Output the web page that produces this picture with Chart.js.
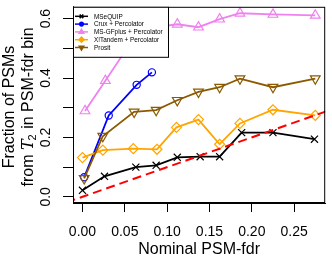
<!DOCTYPE html>
<html lang="en">
<head>
<meta charset="UTF-8">
<title>Fraction of PSMs vs nominal PSM-fdr</title>
<script src="https://cdn.jsdelivr.net/npm/chart.js@4.4.0/dist/chart.umd.min.js"></script>
<style>
    html, body { margin: 0; padding: 0; background: #fff; }
    #wrap { width: 332px; height: 260px; }
</style>
</head>
<body>
<div id="wrap">
    <canvas id="myChart" width="332" height="260"></canvas>
</div>
<script>
    // values
    const msqX = [0.000, 0.026, 0.063, 0.087, 0.112, 0.139, 0.162, 0.188, 0.225, 0.274];
    const msqY = [0.022, 0.069, 0.100, 0.106, 0.133, 0.135, 0.135, 0.216, 0.216, 0.194];

    const cruxX = [0.002, 0.031, 0.064, 0.082];
    const cruxY = [0.066, 0.274, 0.377, 0.419];

    const msgfX = [0.003, 0.027, 0.061, 0.087, 0.112, 0.137, 0.162, 0.186, 0.225, 0.275];
    const msgfY = [0.289, 0.391, 0.536, 0.571, 0.581, 0.571, 0.598, 0.618, 0.614, 0.611];

    const xtX = [0.000, 0.024, 0.060, 0.088, 0.111, 0.137, 0.162, 0.186, 0.225, 0.275];
    const xtY = [0.132, 0.157, 0.162, 0.160, 0.234, 0.260, 0.177, 0.247, 0.293, 0.274];

    const prositX = [0.002, 0.024, 0.061, 0.087, 0.112, 0.137, 0.162, 0.186, 0.225, 0.275];
    const prositY = [0.062, 0.204, 0.286, 0.292, 0.325, 0.353, 0.369, 0.398, 0.369, 0.398];

    // y = x reference
    const diagX = [-0.05, 0.35];
    const diagY = [-0.05, 0.35];

    const xTicks = [0.00, 0.05, 0.10, 0.15, 0.20, 0.25];
    const yTicks = [0.0, 0.1, 0.2, 0.3, 0.4, 0.5, 0.6];
    const yLabels = ['0.0', '', '0.2', '', '0.4', '', '0.6'];

    const seriesNames = ['MSeQUIP', 'Crux + Percolator', 'MS-GFplus + Percolator', 'X!Tandem + Percolator', 'Prosit'];

    const FONT = "'Liberation Sans', Arial, sans-serif";

    function pts(xs, ys) {
        return xs.map((x, i) => ({x: x, y: ys[i]}));
    }

    function series(name, xs, ys, color, style, radius, rot, order) {
        return {
            label: name,
            data: pts(xs, ys),
            showLine: true,
            borderColor: color,
            borderWidth: 1.8,
            pointStyle: style,
            pointRadius: radius,
            pointRotation: rot,
            pointBorderColor: color,
            pointBorderWidth: 1.2,
            pointBackgroundColor: 'rgba(0,0,0,0)',
            order: order
        };
    }

    const datasets = [
        series(seriesNames[0], msqX, msqY, '#000000', 'crossRot', 5, 0, 5),
        series(seriesNames[1], cruxX, cruxY, '#0000FF', 'circle', 3.6, 0, 4),
        series(seriesNames[2], msgfX, msgfY, '#EE82EE', 'triangle', 5.6, 0, 3),
        series(seriesNames[3], xtX, xtY, '#FFA500', 'rectRot', 5, 0, 2),
        series(seriesNames[4], prositX, prositY, '#8B5A00', 'triangle', 5.6, 180, 1),
        {
            label: 'diag',
            data: pts(diagX, diagY),
            showLine: true,
            borderColor: '#FF0000',
            borderWidth: 2,
            borderDash: [9, 5],
            pointRadius: 0,
            order: 0
        }
    ];

    // box around the plot, rotated y labels, y title and the legend
    const decor = {
        id: 'decor',
        afterDraw(chart) {
            const ctx = chart.ctx;
            const a = chart.chartArea;
            const ys = chart.scales.y;
            ctx.save();
            ctx.strokeStyle = '#000';
            ctx.lineWidth = 1;
            ctx.strokeRect(a.left + 0.5, a.top + 0.5, a.right - a.left - 1, a.bottom - a.top - 1);

            // y tick labels, vertical like R
            ctx.fillStyle = '#000';
            ctx.font = '14px ' + FONT;
            ctx.textAlign = 'center';
            ctx.textBaseline = 'alphabetic';
            yTicks.forEach((v, i) => {
                if (!yLabels[i]) return;
                const py = ys.getPixelForValue(v);
                ctx.save();
                ctx.translate(50, py);
                ctx.rotate(-Math.PI / 2);
                ctx.fillText(yLabels[i], 0, 0);
                ctx.restore();
            });

            // y title, two lines
            const cy = 107;
            ctx.save();
            ctx.translate(14, cy);
            ctx.rotate(-Math.PI / 2);
            ctx.font = '16px ' + FONT;
            ctx.fillText('Fraction of PSMs', 0, 0);
            ctx.restore();

            ctx.save();
            ctx.translate(33, cy);
            ctx.rotate(-Math.PI / 2);
            const f1 = '16px ' + FONT;
            const fT = "italic 16px 'DejaVu Serif', serif";
            const fSub = '11px ' + FONT;
            const p1 = 'from ', p2 = 'T', p3 = '2', p4 = ' in PSM-fdr bin';
            ctx.textAlign = 'left';
            ctx.font = f1; const w1 = ctx.measureText(p1).width; const w4 = ctx.measureText(p4).width;
            ctx.font = fT; const w2 = ctx.measureText(p2).width;
            ctx.font = fSub; const w3 = ctx.measureText(p3).width;
            let u = -(w1 + w2 + w3 + w4) / 2;
            ctx.font = f1; ctx.fillText(p1, u, 0); u += w1;
            ctx.font = fT; ctx.fillText(p2, u, 0); u += w2;
            ctx.font = fSub; ctx.fillText(p3, u - 1, 3); u += w3;
            ctx.font = f1; ctx.fillText(p4, u, 0);
            ctx.restore();

            // legend box in the top left corner
            const lx = a.left, ly = a.top, lw = 95, lh = 50;
            ctx.fillStyle = '#fff';
            ctx.fillRect(lx, ly, lw, lh);
            ctx.strokeStyle = '#000';
            ctx.lineWidth = 1;
            ctx.strokeRect(lx + 0.5, ly + 0.5, lw, lh);
            ctx.font = '6.4px ' + FONT;
            ctx.textAlign = 'left';
            ctx.textBaseline = 'middle';
            for (let i = 0; i < 5; i++) {
                const ds = datasets[i];
                const yy = ly + 9.5 + i * 7.8;
                ctx.strokeStyle = ds.borderColor;
                ctx.lineWidth = 1.5;
                ctx.beginPath();
                ctx.moveTo(lx + 2, yy);
                ctx.lineTo(lx + 15, yy);
                ctx.stroke();
                ctx.fillStyle = ds.borderColor;
                if (Chart.helpers && Chart.helpers.drawPoint) {
                    Chart.helpers.drawPoint(ctx, {
                        pointStyle: ds.pointStyle,
                        radius: ds.pointStyle === 'circle' ? 1.8 : 2.6,
                        rotation: ds.pointRotation,
                        borderWidth: 1
                    }, lx + 8.5, yy);
                }
                ctx.fillStyle = '#000';
                ctx.fillText(seriesNames[i], lx + 21, yy + 0.5);
            }
            ctx.restore();
        }
    };

    const ctx = document.getElementById('myChart');
    const myChart = new Chart(ctx, {
        type: 'scatter',
        data: { datasets: datasets },
        options: {
            responsive: false,
            animation: false,
            devicePixelRatio: 1,
            events: [],
            layout: { padding: { top: 3, right: 1, left: 0, bottom: 0 } },
            plugins: {
                legend: { display: false },
                tooltip: { enabled: false }
            },
            scales: {
                x: {
                    type: 'linear',
                    min: -0.0112,
                    max: 0.2867,
                    afterBuildTicks: s => { s.ticks = xTicks.map(v => ({value: v})); },
                    afterFit: s => { s.height = 57; },
                    ticks: {
                        autoSkip: false,
                        maxRotation: 0,
                        padding: 12,
                        color: '#000',
                        font: { size: 14, family: FONT },
                        callback: v => Number(v).toFixed(2)
                    },
                    grid: { drawOnChartArea: false, tickLength: 9, color: '#000' },
                    border: { display: true, color: '#000' },
                    title: {
                        display: true,
                        text: 'Nominal PSM-fdr',
                        color: '#000',
                        font: { size: 16, family: FONT },
                        padding: { top: 0, bottom: 1 }
                    }
                },
                y: {
                    type: 'linear',
                    min: -0.0208,
                    max: 0.6397,
                    afterBuildTicks: s => { s.ticks = yTicks.map(v => ({value: v})); },
                    afterFit: s => { s.width = 73; },
                    ticks: { display: false },
                    grid: { drawOnChartArea: false, tickLength: 10, color: '#000' },
                    border: { display: true, color: '#000' }
                }
            }
        },
        plugins: [decor]
    });
</script>
</body>
</html>
